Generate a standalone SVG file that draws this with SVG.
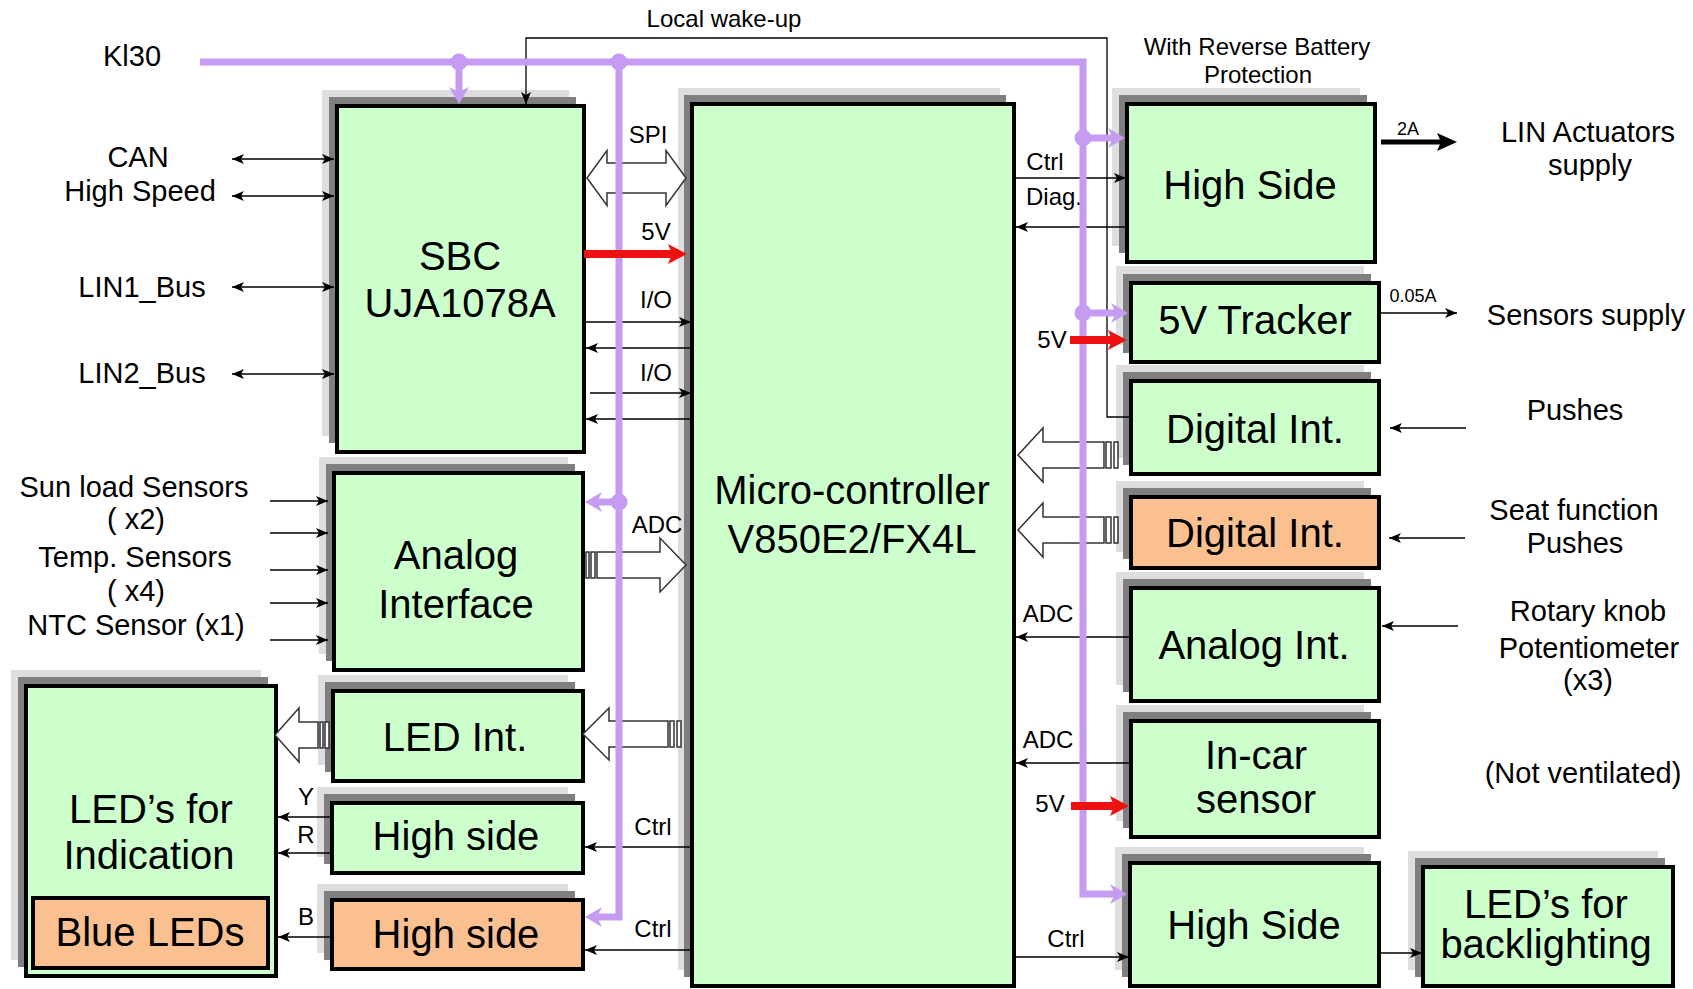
<svg xmlns="http://www.w3.org/2000/svg" width="1693" height="989" viewBox="0 0 1693 989">
<style>
.s1{fill:#dedede}
.s2{fill:#7f7f7f}
.g{fill:#ccffcc;stroke:#000;stroke-width:4}
.o{fill:#fac090;stroke:#000;stroke-width:4}
text{font-family:"Liberation Sans",Arial,sans-serif;fill:#000;text-anchor:middle}
.big{font-size:40px}
.mid{font-size:29px}
.sm{font-size:24px}
.xs{font-size:18px}
.ln{stroke:#000;stroke-width:1.5;fill:none}
.pu{stroke:#c69cf2;stroke-width:7;fill:none}
.rd{stroke:#ee1111;stroke-width:8;fill:none}
.ha{fill:#fff;stroke:#333;stroke-width:1.5}
.dot{fill:#c69cf2}
</style>
<defs>
<marker id="ah" markerUnits="userSpaceOnUse" viewBox="0 0 12 10" markerWidth="12" markerHeight="10" refX="12" refY="5" orient="auto-start-reverse"><path d="M0,0 L12,5 L0,10 L3,5 Z" fill="#000"/></marker>
<marker id="pa" markerUnits="userSpaceOnUse" viewBox="0 0 17 20" markerWidth="17" markerHeight="20" refX="8" refY="10" orient="auto"><path d="M0,0 L17,10 L0,20 L5,10 Z" fill="#c69cf2"/></marker>
<marker id="ra" markerUnits="userSpaceOnUse" viewBox="0 0 19 20" markerWidth="19" markerHeight="20" refX="9" refY="10" orient="auto"><path d="M0,0 L19,10 L0,20 L4,10 Z" fill="#ee1111"/></marker>
<marker id="ka" markerUnits="userSpaceOnUse" viewBox="0 0 20 18" markerWidth="20" markerHeight="18" refX="10" refY="9" orient="auto"><path d="M0,0 L20,9 L0,18 L4,9 Z" fill="#000"/></marker>
</defs>
<rect width="1693" height="989" fill="#fff"/>

<g id="sbc">
<rect class="s1" x="322" y="90" width="247" height="346"/>
<rect class="s2" x="329" y="97" width="247" height="346"/>
<rect class="g" x="337" y="106" width="247" height="346"/>
<text class="big" x="460" y="270">SBC</text>
<text class="big" x="460" y="317">UJA1078A</text>
</g>
<g id="micro">
<rect class="s1" x="678" y="88" width="322" height="882"/>
<rect class="s2" x="684" y="95" width="322" height="882"/>
<rect class="g" x="692" y="104" width="322" height="882"/>
<text class="big" x="852" y="504">Micro-controller</text>
<text class="big" x="852" y="553">V850E2/FX4L</text>
</g>
<g id="hs-top">
<rect class="s1" x="1112" y="88" width="248" height="158"/>
<rect class="s2" x="1119" y="95" width="248" height="158"/>
<rect class="g" x="1127" y="104" width="248" height="158"/>
<text class="big" x="1250" y="199">High Side</text>
</g>
<g id="tracker">
<rect class="s1" x="1116" y="266" width="248" height="79"/>
<rect class="s2" x="1123" y="274" width="248" height="79"/>
<rect class="g" x="1131" y="283" width="248" height="79"/>
<text class="big" x="1255" y="334">5V Tracker</text>
</g>
<g id="digital1">
<rect class="s1" x="1116" y="365" width="248" height="93"/>
<rect class="s2" x="1123" y="372" width="248" height="93"/>
<rect class="g" x="1131" y="381" width="248" height="93"/>
<text class="big" x="1255" y="443">Digital Int.</text>
</g>
<g id="digital2">
<rect class="s1" x="1116" y="481" width="248" height="71"/>
<rect class="s2" x="1123" y="488" width="248" height="71"/>
<rect class="o" x="1131" y="497" width="248" height="71"/>
<text class="big" x="1255" y="547">Digital Int.</text>
</g>
<g id="analog-int">
<rect class="s1" x="1116" y="572" width="248" height="113"/>
<rect class="s2" x="1123" y="579" width="248" height="113"/>
<rect class="g" x="1131" y="588" width="248" height="113"/>
<text class="big" x="1254" y="659">Analog Int.</text>
</g>
<g id="incar">
<rect class="s1" x="1116" y="705" width="248" height="116"/>
<rect class="s2" x="1123" y="712" width="248" height="116"/>
<rect class="g" x="1131" y="721" width="248" height="116"/>
<text class="big" x="1256" y="769">In-car</text>
<text class="big" x="1256" y="813">sensor</text>
</g>
<g id="hs-bottom">
<rect class="s1" x="1115" y="847" width="249" height="123"/>
<rect class="s2" x="1122" y="854" width="249" height="123"/>
<rect class="g" x="1130" y="863" width="249" height="123"/>
<text class="big" x="1254" y="939">High Side</text>
</g>
<g id="led-backlight">
<rect class="s1" x="1408" y="851" width="250" height="119"/>
<rect class="s2" x="1415" y="858" width="250" height="119"/>
<rect class="g" x="1423" y="867" width="250" height="119"/>
<text class="big" x="1546" y="918">LED’s for</text>
<text class="big" x="1546" y="958">backlighting</text>
</g>
<g id="analog-interface">
<rect class="s1" x="319" y="457" width="249" height="197"/>
<rect class="s2" x="326" y="464" width="249" height="197"/>
<rect class="g" x="334" y="473" width="249" height="197"/>
<text class="big" x="456" y="569">Analog</text>
<text class="big" x="456" y="618">Interface</text>
</g>
<g id="led-int">
<rect class="s1" x="318" y="675" width="250" height="90"/>
<rect class="s2" x="325" y="682" width="250" height="90"/>
<rect class="g" x="333" y="691" width="250" height="90"/>
<text class="big" x="455" y="751">LED Int.</text>
</g>
<g id="hs-green">
<rect class="s1" x="317" y="787" width="251" height="70"/>
<rect class="s2" x="324" y="794" width="251" height="70"/>
<rect class="g" x="332" y="803" width="251" height="70"/>
<text class="big" x="456" y="850">High side</text>
</g>
<g id="hs-orange">
<rect class="s1" x="317" y="884" width="251" height="69"/>
<rect class="s2" x="324" y="891" width="251" height="69"/>
<rect class="o" x="332" y="900" width="251" height="69"/>
<text class="big" x="456" y="948">High side</text>
</g>
<g id="led-indication">
<rect class="s1" x="11" y="670" width="250" height="290"/>
<rect class="s2" x="18" y="677" width="250" height="290"/>
<rect class="g" x="26" y="686" width="250" height="290"/>
<text class="big" x="151" y="823">LED’s for</text>
<text class="big" x="149" y="869">Indication</text>
</g>
<g id="blue-leds">
<rect class="o" x="33" y="898" width="235" height="70"/>
<text class="big" x="150" y="946">Blue LEDs</text>
</g>

<g id="labels">
<text class="mid" x="132" y="66">Kl30</text>
<text class="sm" x="724" y="27">Local wake-up</text>
<text class="sm" x="1257" y="55">With Reverse Battery</text>
<text class="sm" x="1258" y="83">Protection</text>
<text class="mid" x="138" y="167">CAN</text>
<text class="mid" x="140" y="201">High Speed</text>
<text class="mid" x="142" y="297">LIN1_Bus</text>
<text class="mid" x="142" y="383">LIN2_Bus</text>
<text class="mid" x="134" y="497">Sun load Sensors</text>
<text class="mid" x="136" y="529">( x2)</text>
<text class="mid" x="135" y="567">Temp. Sensors</text>
<text class="mid" x="136" y="601">( x4)</text>
<text class="mid" x="136" y="635">NTC Sensor (x1)</text>
<text class="sm" x="648" y="143">SPI</text>
<text class="sm" x="656" y="240">5V</text>
<text class="sm" x="656" y="308">I/O</text>
<text class="sm" x="656" y="381">I/O</text>
<text class="sm" x="657" y="533">ADC</text>
<text class="sm" x="653" y="835">Ctrl</text>
<text class="sm" x="653" y="937">Ctrl</text>
<text class="sm" x="306" y="805">Y</text>
<text class="sm" x="306" y="843">R</text>
<text class="sm" x="306" y="925">B</text>
<text class="sm" x="1045" y="170">Ctrl</text>
<text class="sm" x="1054" y="205">Diag.</text>
<text class="sm" x="1052" y="348">5V</text>
<text class="sm" x="1048" y="622">ADC</text>
<text class="sm" x="1048" y="748">ADC</text>
<text class="sm" x="1050" y="812">5V</text>
<text class="sm" x="1066" y="947">Ctrl</text>
<text class="xs" x="1408" y="135">2A</text>
<text class="xs" x="1413" y="302">0.05A</text>
<text class="mid" x="1588" y="142">LIN Actuators</text>
<text class="mid" x="1590" y="175">supply</text>
<text class="mid" x="1586" y="325">Sensors supply</text>
<text class="mid" x="1575" y="420">Pushes</text>
<text class="mid" x="1574" y="520">Seat function</text>
<text class="mid" x="1575" y="553">Pushes</text>
<text class="mid" x="1588" y="621">Rotary knob</text>
<text class="mid" x="1589" y="658">Potentiometer</text>
<text class="mid" x="1588" y="690">(x3)</text>
<text class="mid" x="1583" y="783">(Not ventilated)</text>
</g>

<g id="connectors">
<path class="ha" d="M587,178 L607,150.5 V163 H666 V150.5 L686,178 L666,205.5 V193 H607 V205.5 Z"/>
<path class="ha" d="M597,552 H660 V538 L686,565 L660,592 V578 H597 Z"/>
<rect class="ha" x="586" y="552" width="3" height="26"/>
<rect class="ha" x="591" y="552" width="4" height="26"/>
<path class="ha" d="M1104,442 H1043 V428 L1018,455 L1043,482 V468 H1104 Z"/>
<rect class="ha" x="1106" y="442" width="5" height="26"/>
<rect class="ha" x="1114" y="442" width="4" height="26"/>
<path class="ha" d="M1104,517 H1043 V503 L1018,530 L1043,557 V543 H1104 Z"/>
<rect class="ha" x="1106" y="517" width="5" height="26"/>
<rect class="ha" x="1114" y="517" width="4" height="26"/>
<path class="ha" d="M668,721 H609 V708 L583,734 L609,760 V747 H668 Z"/>
<rect class="ha" x="670" y="721" width="4" height="26"/>
<rect class="ha" x="677" y="721" width="4" height="26"/>
<path class="ha" d="M318,722 H299 V708 L275,735 L299,762 V748 H318 Z"/>
<rect class="ha" x="320" y="722" width="3" height="26"/>
<rect class="ha" x="325" y="722" width="4" height="26"/>

<line class="ln" x1="232" y1="159" x2="334" y2="159" marker-start="url(#ah)" marker-end="url(#ah)"/>
<line class="ln" x1="232" y1="196" x2="334" y2="196" marker-start="url(#ah)" marker-end="url(#ah)"/>
<line class="ln" x1="232" y1="287" x2="334" y2="287" marker-start="url(#ah)" marker-end="url(#ah)"/>
<line class="ln" x1="232" y1="374" x2="334" y2="374" marker-start="url(#ah)" marker-end="url(#ah)"/>
<polyline class="ln" style="stroke-width:1.3" points="1129,417 1107,417 1107,38 526,38 526,104" marker-end="url(#ah)"/>
<line class="ln" x1="586" y1="322" x2="691" y2="322" marker-end="url(#ah)"/>
<line class="ln" x1="692" y1="348" x2="586" y2="348" marker-end="url(#ah)"/>
<line class="ln" x1="590" y1="393" x2="691" y2="393" marker-end="url(#ah)"/>
<line class="ln" x1="692" y1="419" x2="586" y2="419" marker-end="url(#ah)"/>
<line class="ln" x1="270" y1="501" x2="328" y2="501" marker-end="url(#ah)"/>
<line class="ln" x1="270" y1="533" x2="328" y2="533" marker-end="url(#ah)"/>
<line class="ln" x1="270" y1="570" x2="328" y2="570" marker-end="url(#ah)"/>
<line class="ln" x1="270" y1="603" x2="328" y2="603" marker-end="url(#ah)"/>
<line class="ln" x1="270" y1="640" x2="328" y2="640" marker-end="url(#ah)"/>
<line class="ln" x1="331" y1="817" x2="278" y2="817" marker-end="url(#ah)"/>
<line class="ln" x1="331" y1="853" x2="278" y2="853" marker-end="url(#ah)"/>
<line class="ln" x1="331" y1="937" x2="278" y2="937" marker-end="url(#ah)"/>
<line class="ln" x1="692" y1="847" x2="585" y2="847" marker-end="url(#ah)"/>
<line class="ln" x1="692" y1="950" x2="585" y2="950" marker-end="url(#ah)"/>
<line class="ln" x1="1014" y1="178" x2="1126" y2="178" marker-end="url(#ah)"/>
<line class="ln" x1="1127" y1="227" x2="1016" y2="227" marker-end="url(#ah)"/>
<line class="ln" x1="1131" y1="637" x2="1016" y2="637" marker-end="url(#ah)"/>
<line class="ln" x1="1131" y1="763" x2="1016" y2="763" marker-end="url(#ah)"/>
<line class="ln" x1="1014" y1="957" x2="1129" y2="957" marker-end="url(#ah)"/>
<line class="ln" x1="1379" y1="953" x2="1422" y2="953" marker-end="url(#ah)"/>
<line class="ln" x1="1381" y1="313" x2="1457" y2="313" marker-end="url(#ah)"/>
<line class="ln" x1="1466" y1="428" x2="1390" y2="428" marker-end="url(#ah)"/>
<line class="ln" x1="1465" y1="538" x2="1389" y2="538" marker-end="url(#ah)"/>
<line class="ln" x1="1458" y1="626" x2="1382" y2="626" marker-end="url(#ah)"/>
<line x1="1381" y1="142" x2="1447" y2="142" stroke="#000" stroke-width="5" marker-end="url(#ka)"/>

<polyline class="pu" points="200,62 1083,62 1083,894 1118,894" marker-end="url(#pa)"/>
<polyline class="pu" points="619,62 619,917 594,917" marker-end="url(#pa)"/>
<line class="pu" x1="459" y1="62" x2="459" y2="95" marker-end="url(#pa)"/>
<line class="pu" x1="619" y1="502" x2="594" y2="502" marker-end="url(#pa)"/>
<line class="pu" x1="1083" y1="138" x2="1116" y2="138" marker-end="url(#pa)"/>
<line class="pu" x1="1083" y1="313" x2="1119" y2="313" marker-end="url(#pa)"/>
<circle class="dot" cx="459" cy="62" r="8.5"/>
<circle class="dot" cx="619" cy="62" r="8.5"/>
<circle class="dot" cx="619" cy="502" r="8.5"/>
<circle class="dot" cx="1083" cy="138" r="8.5"/>
<circle class="dot" cx="1083" cy="313" r="8.5"/>

<line class="rd" x1="584" y1="254" x2="677" y2="254" marker-end="url(#ra)"/>
<line class="rd" x1="1070" y1="340" x2="1117" y2="340" marker-end="url(#ra)"/>
<line class="rd" x1="1071" y1="806" x2="1119" y2="806" marker-end="url(#ra)"/>
</g>
</svg>
